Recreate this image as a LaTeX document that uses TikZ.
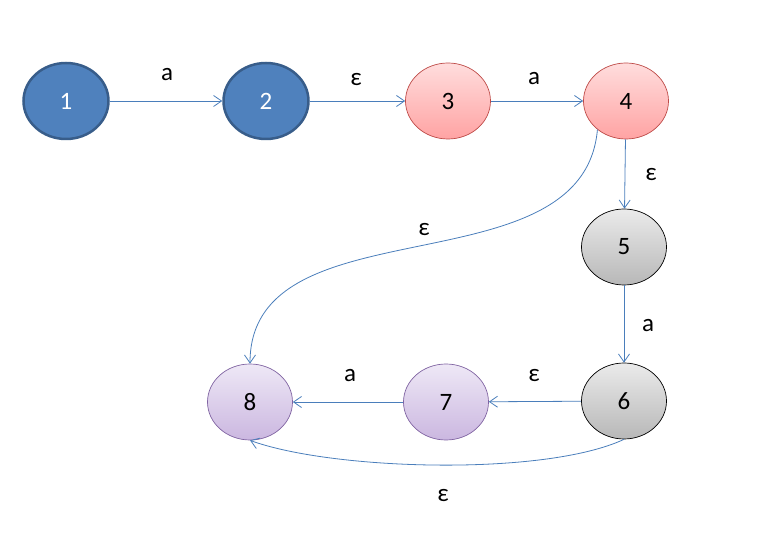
\documentclass[tikz,border=0pt]{standalone}
\usepackage{fontspec}
\setmainfont{Carlito}
\usetikzlibrary{shapes.geometric,arrows.meta}
\definecolor{edgeblue}{HTML}{4A7EBB}
\definecolor{stateblue}{HTML}{4F81BD}
\definecolor{borderblue}{HTML}{385D8A}
\definecolor{redtop}{HTML}{FFDDDD}
\definecolor{redbot}{HTML}{FFA3A3}
\definecolor{redline}{HTML}{BE4B48}
\definecolor{lilactop}{HTML}{EEE8F6}
\definecolor{lilacbot}{HTML}{CBB7E0}
\definecolor{lilacline}{HTML}{8064A2}
\begin{document}
\begin{tikzpicture}[x=1pt,y=1pt,>={Straight Barb[length=8pt,width=11pt]},
  state/.style={ellipse,minimum width=85pt,minimum height=76pt,inner sep=0pt,
    font=\fontsize{25}{30}\selectfont},
  bluestate/.style={state,fill=stateblue,draw=borderblue,line width=2.5pt,text=white},
  redstate/.style={state,top color=redtop,bottom color=redbot,draw=redline,line width=0.7pt},
  graystate/.style={state,top color=black!8,bottom color=black!28,draw=black,line width=0.7pt},
  lilacstate/.style={state,top color=lilactop,bottom color=lilacbot,draw=lilacline,line width=0.7pt},
  edge/.style={->,draw=edgeblue,line width=0.8pt},
  lbl/.style={font=\fontsize{25}{30}\selectfont}]
\useasboundingbox (0,0) rectangle (762,538);
\node[bluestate] (s1) at (66,437) {1};
\node[bluestate] (s2) at (266,437) {2};
\node[redstate] (s3) at (448,437) {3};
\node[redstate] (s4) at (626,437) {4};
\node[graystate] (s5) at (624,291) {5};
\node[graystate] (s6) at (624,137) {6};
\node[lilacstate] (s7) at (446,136) {7};
\node[lilacstate] (s8) at (250,136) {8};
\draw[edge] (s1)--(s2);
\draw[edge] (s2)--(s3);
\draw[edge] (s3)--(s4);
\draw[edge] (s4)--(s5);
\draw[edge] (s5)--(s6);
\draw[edge] (s6)--(s7);
\draw[edge] (s7)--(s8);
\draw[edge] (s4.-135) to[out=-95,in=90] (s8.north);
\draw[edge] (s6.south) to[out=-155,in=-20,looseness=0.6] (s8.south);
\node[lbl] at (167,463) {a};
\node[lbl] at (356,458) {ε};
\node[lbl] at (534,459) {a};
\node[lbl] at (651,363) {ε};
\node[lbl] at (648,212) {a};
\node[lbl] at (534,162) {ε};
\node[lbl] at (350,162) {a};
\node[lbl] at (424,308) {ε};
\node[lbl] at (443,42) {ε};
\end{tikzpicture}
\end{document}
